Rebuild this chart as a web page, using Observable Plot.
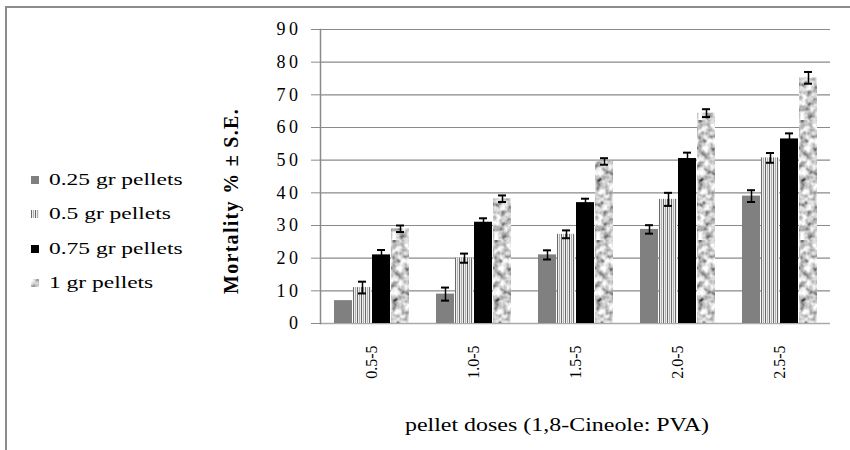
<!DOCTYPE html>
<html>
<head>
<meta charset="utf-8">
<script src="https://cdn.jsdelivr.net/npm/d3@7"></script>
<script src="https://cdn.jsdelivr.net/npm/@observablehq/plot@0.6"></script>
<style>
  body { margin:0; width:850px; height:450px; overflow:hidden; position:relative; background:#fff; font-family:"Liberation Serif", "Times New Roman", Tinos, "DejaVu Serif", "Noto Serif", serif; }
  #frame { position:absolute; left:5px; top:6px; width:900px; height:500px; border:2px solid #8c8c8c; }
  #chart { position:absolute; left:0; top:0; }
  .leg { position:absolute; left:31px; font-size:17px; white-space:nowrap; display:flex; align-items:center; }
  .leg svg { margin-right:10px; }
  .leg span { display:inline-block; transform:scaleX(1.38); transform-origin:left center; }
  #ylab { position:absolute; left:231px; top:201px; transform:translate(-50%,-50%) rotate(-90deg); font-weight:bold; font-size:20px; letter-spacing:1.3px; white-space:nowrap; }
  #xlab { position:absolute; left:557px; top:425px; transform:translate(-50%,-50%) scaleX(1.33); font-size:18px; white-space:nowrap; }
</style>
</head>
<body>
<svg width="0" height="0" style="position:absolute">
  <defs>
    <filter id="noiseF" filterUnits="userSpaceOnUse" x="0" y="0" width="120" height="120">
      <feTurbulence type="fractalNoise" baseFrequency="0.16" numOctaves="2" seed="4"/>
      <feColorMatrix type="matrix" values="1.7 0 0 0 -0.22  1.7 0 0 0 -0.22  1.7 0 0 0 -0.22  0 0 0 0 1"/>
    </filter>
    <pattern id="granite" patternUnits="userSpaceOnUse" width="120" height="120">
      <rect width="120" height="120" fill="#aaa" filter="url(#noiseF)"/>
    </pattern>
    <pattern id="stripes" patternUnits="userSpaceOnUse" width="4" height="4">
      <rect width="4" height="4" fill="#eeeeee"/>
      <rect x="0" width="1" height="4" fill="#6a6a6a"/>
      <rect x="2" width="1" height="4" fill="#b0b0b0"/>
    </pattern>
  </defs>
</svg>
<div id="frame"></div>
<div id="chart"></div>
<div id="legend"></div>
<div id="ylab">Mortality % ± S.E.</div>
<div id="xlab">pellet doses (1,8-Cineole: PVA)</div>
<script>
const groups = ["0.5-5", "1.0-5", "1.5-5", "2.0-5", "2.5-5"];
const series = ["0.25 gr pellets", "0.5 gr pellets", "0.75 gr pellets", "1 gr pellets"];
const mean025 = [7, 9, 21, 28.8, 39];
const se025 = [0, 2, 1.4, 1.3, 1.8];
const mean05 = [11, 20, 27.3, 38, 50.7];
const se05 = [1.8, 1.4, 1.2, 2, 1.5];
const mean075 = [21, 31, 37, 50.5, 56.5];
const se075 = [1.5, 1.2, 1.2, 1.8, 1.7];
const mean1 = [29, 38.2, 49.6, 64.4, 75.2];
const se1 = [1, 1, 1, 1.2, 1.8];
const yTicks = [0, 10, 20, 30, 40, 50, 60, 70, 80, 90];
const fills = ["#808080", "url(#stripes)", "#000000", "url(#granite)"];

const means = [mean025, mean05, mean075, mean1];
const ses = [se025, se05, se075, se1];
const data = [];
groups.forEach((g, i) => series.forEach((s, j) => {
  data.push({group: g, series: s, value: means[j][i], se: ses[j][i]});
}));
const err = data.filter(d => d.se > 0);

const serif = "'Liberation Serif', 'Times New Roman', Tinos, 'DejaVu Serif', 'Noto Serif', serif";
const chart = Plot.plot({
  width: 850, height: 450,
  marginLeft: 319, marginRight: 20, marginTop: 29, marginBottom: 127,
  style: {fontFamily: serif, fontSize: "14px", background: "transparent", color: "#000"},
  fx: {domain: groups, padding: 0, label: null, axis: null},
  x: {domain: series, axis: null, paddingInner: 0.06, paddingOuter: 0.7},
  y: {domain: [0, 90], label: null, axis: null},
  color: {domain: series, range: fills},
  marks: [
    Plot.gridY(yTicks, {stroke: "#8a8a8a", strokeOpacity: 1, strokeWidth: 1.2}),
    Plot.ruleY([0], {stroke: "#aaaaaa", strokeWidth: 1.5}),
    Plot.barY(data, {fx: "group", x: "series", y: "value", fill: "series"}),
    Plot.ruleX(err, {fx: "group", x: "series", y1: d => d.value - d.se, y2: d => d.value + d.se, stroke: "#000", strokeWidth: 1.5}),
    Plot.tickY(err, {fx: "group", x: "series", y: d => d.value + d.se, insetLeft: 5, insetRight: 5, stroke: "#000", strokeWidth: 2}),
    Plot.tickY(err, {fx: "group", x: "series", y: d => d.value - d.se, insetLeft: 5, insetRight: 5, stroke: "#000", strokeWidth: 2}),
    Plot.axisY(yTicks, {anchor: "left", tickSize: 9, tickPadding: 10, stroke: "#8a8a8a", fill: "#000", fontSize: 18, label: null}),
    Plot.axisFx({anchor: "bottom", tickSize: 0, tickPadding: 22, tickRotate: -90, fontSize: 16, label: null}),
    Plot.frame({anchor: "left", facetAnchor: "left", stroke: "#8a8a8a", strokeWidth: 1.5})
  ]
});
document.getElementById("chart").appendChild(chart);
chart.querySelectorAll("g[aria-label='y-axis tick label'] text").forEach(t => t.setAttribute("letter-spacing", "3.5"));

const legend = document.getElementById("legend");
const legY = [180, 214, 249, 283];
series.forEach((s, j) => {
  const div = document.createElement("div");
  div.className = "leg";
  div.style.top = (legY[j] - 10) + "px";
  div.innerHTML = `<svg width="8" height="8"><rect width="8" height="8" fill="${fills[j]}"/></svg><span>${s}</span>`;
  legend.appendChild(div);
});
</script>
</body>
</html>
